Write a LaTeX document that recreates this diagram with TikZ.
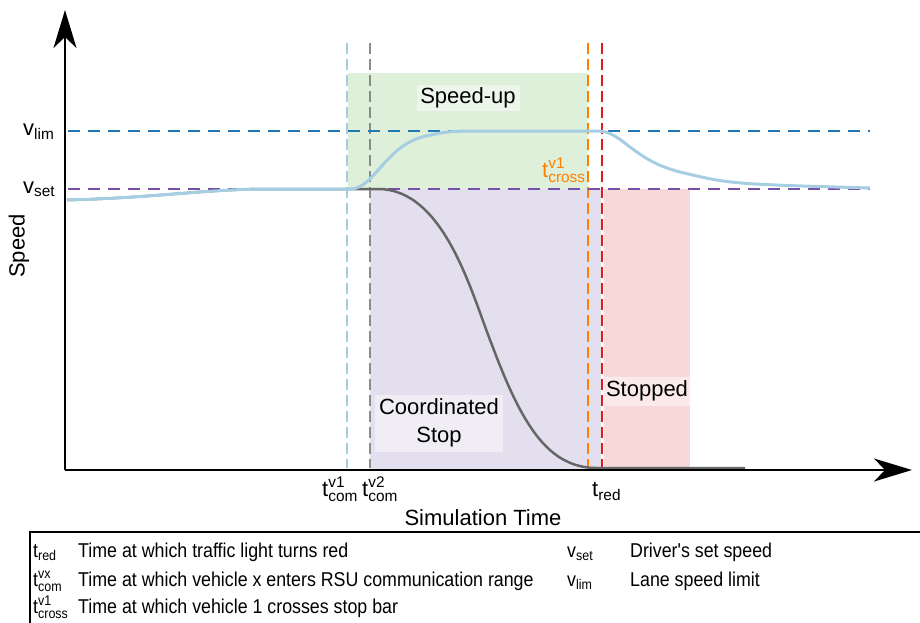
\documentclass[tikz,border=0pt]{standalone}
\usepackage{fontspec}
\usepackage{amsmath}
\setmainfont{Liberation Sans}
\newfontfamily\narrowfont[FakeStretch=0.89]{Liberation Sans}
\usetikzlibrary{arrows.meta}
\definecolor{comonec}{HTML}{A6CEE3}
\definecolor{comtwoc}{HTML}{8C8C8C}
\definecolor{crossc}{HTML}{FF7F00}
\definecolor{redc}{HTML}{E31A1C}
\definecolor{limc}{HTML}{1F78B4}
\definecolor{setc}{HTML}{7550A6}
\definecolor{upfill}{HTML}{DFF0DA}
\definecolor{stopfill}{HTML}{E4DFEE}
\definecolor{redfill}{HTML}{F8D9DA}
\definecolor{vonec}{HTML}{A6CEE3}
\definecolor{vtwoc}{HTML}{666666}
\newcommand{\tvar}[3]{$\text{#1}^{\text{#2}}_{\text{#3}}$}
\newcommand{\svar}[2]{$\text{#1}_{\text{#2}}$}

\begin{document}
\begin{tikzpicture}[x=1pt, y=-1pt,
every node/.style={inner sep=0pt},
big/.style={font=\fontsize{22}{28}\selectfont},
legend/.style={font=\narrowfont\fontsize{20}{22}\selectfont, anchor=base west},
tagbox/.style={fill=white, fill opacity=0.45, text opacity=1, inner sep=3pt},
vdash/.style={line width=2.4pt, dash pattern=on 11pt off 5pt},
hdash/.style={line width=2.4pt, dash pattern=on 12pt off 8pt},
axis/.style={line width=2pt, -{Stealth[length=38pt, width=23pt, inset=11pt]}}]
\useasboundingbox (0,0) rectangle (920,622);

\fill[upfill] (348,73) rectangle (588,189);
\fill[stopfill] (370,189) rectangle (601,470);
\fill[redfill] (604,189) rectangle (690,470);

\node[big, tagbox, minimum width=103pt, minimum height=25pt] (speedup) at (468,98) {Speed-up};
\node[big, tagbox, align=center, minimum width=128pt, minimum height=57pt] (coordstop) at (439,423) {Coordinated\\Stop};
\node[big, tagbox, minimum width=86pt, minimum height=29pt] (stopped) at (647,391) {Stopped};

\draw[vdash, comonec] (347,43) -- (347,468);
\draw[vdash, comtwoc] (370,43) -- (370,468);
\draw[vdash, crossc] (588,43) -- (588,468);
\draw[vdash, redc] (602,43) -- (602,468);

\draw[hdash, limc] (68,131) -- (870,131);
\draw[hdash, setc] (68,189) -- (870,189);

\draw[vtwoc, line width=2.5pt] (67,200) .. controls (150,198) and (200,190) .. (260,189)
-- (378,189) .. controls (445,189) and (472,295) .. (492,345)
.. controls (522,425) and (548,468) .. (597,468) -- (745,468);
\draw[vonec, line width=3pt] (67,200) .. controls (150,198) and (200,190) .. (260,189)
-- (350,189) .. controls (374,189) and (384,148) .. (422,137)
.. controls (448,131) .. (495,131) -- (598,131)
.. controls (622,131) and (632,160) .. (680,172)
.. controls (730,184) .. (870,188);

\coordinate (origin) at (65,470);
\coordinate (xend) at (912,470);
\coordinate (yend) at (65,10);
\draw[axis] (origin) -- (xend);
\draw[axis] (origin) -- (yend);

\node[big, anchor=base west] (vlim) at (23,135) {\svar{v}{lim}};
\node[big, anchor=base west] (vset) at (23,193) {\svar{v}{set}};
\node[big, rotate=90] (ylabel) at (19,246) {Speed};
\node[big] (xlabel) at (483,518) {Simulation Time};
\node[big, anchor=base west] (tcomone) at (322,496) {\tvar{t}{v1}{com}};
\node[big, anchor=base west] (tcomtwo) at (362,496) {\tvar{t}{v2}{com}};
\node[big, anchor=base west] (tred) at (592,496) {\svar{t}{red}};
\node[big, anchor=base west, text=crossc] (tcross) at (542,177) {\tvar{t}{v1}{cross}};

\draw[line width=2pt] (30,532) rectangle (930,640);
\node[legend] (ltred) at (33,557) {\svar{t}{red}};
\node[legend] (ltredtxt) at (78,557) {Time at which traffic light turns red};
\node[legend] (ltcom) at (33,586) {\tvar{t}{vx}{com}};
\node[legend] (ltcomtxt) at (78,586) {Time at which vehicle x enters RSU communication range};
\node[legend] (ltcross) at (33,613) {\tvar{t}{v1}{cross}};
\node[legend] (ltcrosstxt) at (78,613) {Time at which vehicle 1 crosses stop bar};
\node[legend] (lvset) at (567,557) {\svar{v}{set}};
\node[legend] (lvsettxt) at (630,557) {Driver's set speed};
\node[legend] (lvlim) at (567,586) {\svar{v}{lim}};
\node[legend] (lvlimtxt) at (630,586) {Lane speed limit};
\end{tikzpicture}
\end{document}
